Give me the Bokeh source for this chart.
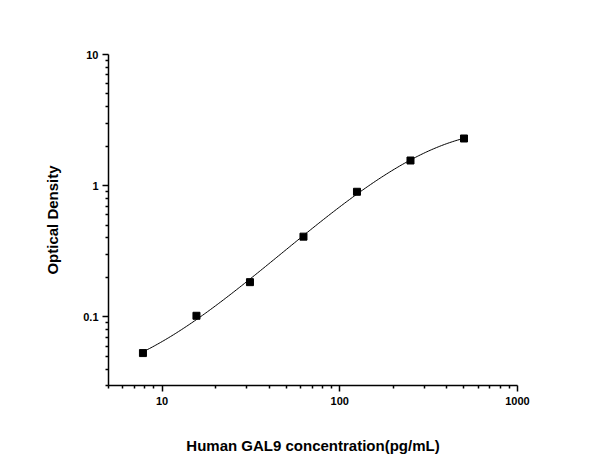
import numpy as np
from bokeh.plotting import figure
from bokeh.models import Range1d, FixedTicker, CustomJSTickFormatter
from bokeh.embed import file_html
from bokeh.resources import INLINE

# Data
conc = [7.8125, 15.625, 31.25, 62.5, 125, 250, 500]
od = [0.053, 0.102, 0.184, 0.409, 0.899, 1.556, 2.29]

x_major = [10, 100, 1000]
y_major = [0.1, 1, 10]

x_label = "Human GAL9 concentration(pg/mL)"
y_label = "Optical Density"

FONT = "Liberation Sans"

p = figure(width=592, height=456, x_axis_type="log", y_axis_type="log",
           x_range=Range1d(5, 1000), y_range=Range1d(0.03, 10),
           output_backend="svg", toolbar_location=None,
           min_border_left=108, min_border_right=75,
           min_border_top=54, min_border_bottom=69)
p.outline_line_color = None
p.grid.visible = False
p.background_fill_color = "white"
p.border_fill_color = "white"

x_minor = [m * d for d in (1, 10, 100) for m in range(2, 10) if 5 <= m * d <= 1000]
y_minor = [m * d for d in (0.01, 0.1, 1) for m in range(2, 10) if 0.03 <= m * d <= 10]

p.xaxis.ticker = FixedTicker(ticks=x_major, minor_ticks=x_minor)
p.yaxis.ticker = FixedTicker(ticks=y_major, minor_ticks=y_minor)
p.xaxis.formatter = CustomJSTickFormatter(code="return tick.toString();")
p.yaxis.formatter = CustomJSTickFormatter(code="return tick.toString();")

for ax in (p.xaxis[0], p.yaxis[0]):
    ax.axis_line_width = 1.5
    ax.axis_line_color = "black"
    ax.major_tick_line_width = 1.5
    ax.minor_tick_line_width = 1.5
    ax.major_tick_line_color = "black"
    ax.minor_tick_line_color = "black"
    ax.major_tick_out = 6
    ax.major_tick_in = 0
    ax.minor_tick_out = 3
    ax.minor_tick_in = 0
    ax.major_label_text_font = FONT
    ax.major_label_text_font_style = "bold"
    ax.major_label_text_font_size = "11px"
    ax.major_label_text_color = "black"
    ax.axis_label_text_font = FONT
    ax.axis_label_text_font_style = "bold"
    ax.axis_label_text_font_size = "15px"
    ax.axis_label_text_color = "black"

p.xaxis.axis_label = x_label
p.yaxis.axis_label = y_label
p.xaxis.major_label_standoff = 5
p.yaxis.major_label_standoff = 4
p.xaxis.axis_label_standoff = 29
p.yaxis.axis_label_standoff = 19

# Fitted curve (cubic in log-log space, derived from the data)
lx = np.log10(conc)
ly = np.log10(od)
coef = np.polyfit(lx, ly, 3)
xs = np.linspace(lx[0], lx[-1], 200)
ys = np.polyval(coef, xs)
p.line(10 ** xs, 10 ** ys, line_color="black", line_width=1)

p.scatter(conc, od, marker="square", size=7, fill_color="black", line_color="black")

open("out.html", "w").write(file_html(p, INLINE))
